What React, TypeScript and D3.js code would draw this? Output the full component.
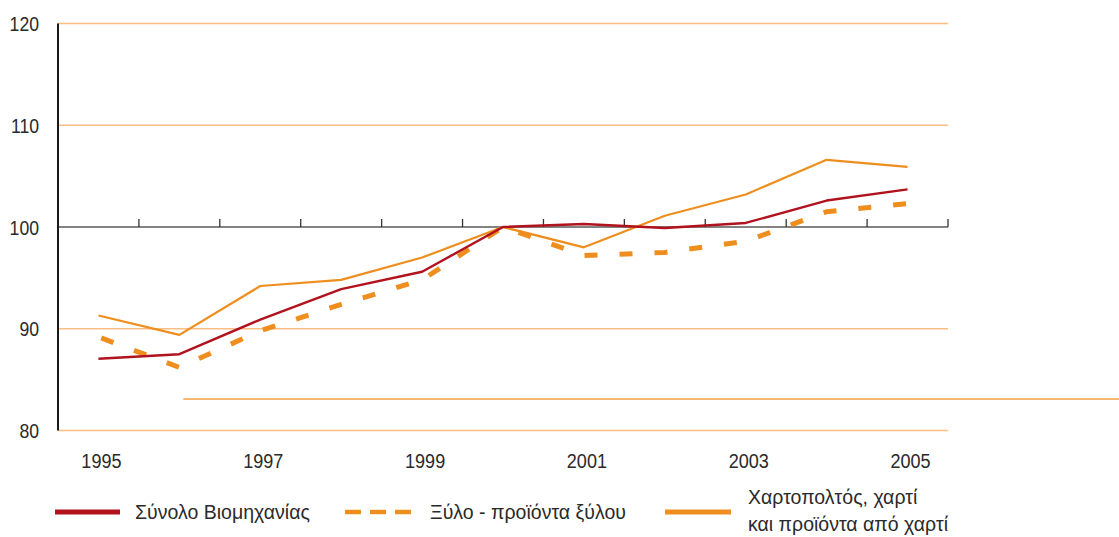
import React from "react";
import * as d3 from "d3";

const years = [1995, 1996, 1997, 1998, 1999, 2000, 2001, 2002, 2003, 2004, 2005];
const tickLabelYears = [1995, 1997, 1999, 2001, 2003, 2005];
const yTicks = [80, 90, 100, 110, 120];

const totalIndustry = [87.05, 87.5, 90.9, 93.9, 95.6, 100, 100.3, 99.9, 100.4, 102.6, 103.7];
const woodProducts = [89.2, 86.2, 89.8, 92.4, 94.8, 100, 97.2, 97.5, 98.6, 101.5, 102.3];
const paperProducts = [91.3, 89.4, 94.2, 94.8, 97.0, 100, 98.0, 101.1, 103.2, 106.6, 105.9];

const strayLineValue = 83.1;

const legendLabels = ["Σύνολο Βιομηχανίας", "Ξύλο - προϊόντα ξύλου"];
const legendLabel3 = ["Χαρτοπολτός, χαρτί", "και προϊόντα από χαρτί"];

const W = 1119;
const H = 537;
const FONT = "'Liberation Sans', Arial, sans-serif";
const RED = "#b0121e";
const ORANGE = "#ee8e1e";
const GRID = "#fbbd82";
const TEXT = "#2a2a2a";

function NText({
  x,
  y,
  anchor = "start",
  size = 21,
  sx = 0.88,
  children,
}: {
  x: number;
  y: number;
  anchor?: "start" | "middle" | "end";
  size?: number;
  sx?: number;
  children: React.ReactNode;
}) {
  return (
    <text
      transform={`translate(${x},${y}) scale(${sx},1)`}
      textAnchor={anchor}
      dominantBaseline="central"
      fontSize={size}
      fill={TEXT}
    >
      {children}
    </text>
  );
}

export default function App() {
  const x = d3.scaleBand<number>().domain(years).range([58, 948]).paddingInner(0).paddingOuter(0);
  const y = d3.scaleLinear().domain([80, 120]).range([430.5, 23.5]);
  const cx = (yr: number) => (x(yr) as number) + x.bandwidth() / 2;

  const line = d3
    .line<number>()
    .x((_, i) => cx(years[i]))
    .y((d) => y(d));

  const tickXs = years.map((yr) => (x(yr) as number) + x.bandwidth());

  return (
    <svg
      width={W}
      height={H}
      style={{ position: "absolute", left: 0, top: 0, display: "block", background: "#fff" }}
      fontFamily={FONT}
    >
      {/* gridlines */}
      {yTicks
        .filter((t) => t !== 100)
        .map((t) => (
          <line key={t} x1={58} x2={948} y1={y(t)} y2={y(t)} stroke={GRID} strokeWidth={1.3} />
        ))}

      {/* stray orange line */}
      <line
        x1={cx(1996) + 4}
        x2={W}
        y1={y(strayLineValue)}
        y2={y(strayLineValue)}
        stroke="#f0a040"
        strokeWidth={1.5}
      />

      {/* 100 baseline with ticks */}
      <line x1={58} x2={948} y1={y(100)} y2={y(100)} stroke="#5a5a5a" strokeWidth={1.3} />
      {tickXs.map((tx, i) => (
        <line key={i} x1={tx} x2={tx} y1={y(100)} y2={y(100) - 8} stroke="#333" strokeWidth={1.3} />
      ))}

      {/* y axis */}
      <line x1={58} x2={58} y1={y(120)} y2={y(80)} stroke="#1a1a1a" strokeWidth={2} />
      {yTicks.map((t) => (
        <NText key={t} x={39} y={y(t)} anchor="end" sx={0.84}>
          {t}
        </NText>
      ))}

      {/* x labels */}
      {tickLabelYears.map((yr) => (
        <NText key={yr} x={cx(yr) + 3} y={460} anchor="middle" sx={0.86}>
          {yr}
        </NText>
      ))}

      {/* series */}
      <path d={line(paperProducts) || ""} fill="none" stroke={ORANGE} strokeWidth={2.2} strokeLinejoin="round" />
      <path
        d={line(woodProducts) || ""}
        fill="none"
        stroke={ORANGE}
        strokeWidth={5}
        strokeDasharray="13 22"
        strokeDashoffset={-3}
      />
      <path d={line(totalIndustry) || ""} fill="none" stroke={RED} strokeWidth={2.4} strokeLinejoin="round" />

      {/* legend */}
      <line x1={55} x2={120} y1={512} y2={512} stroke={RED} strokeWidth={5} />
      <NText x={135} y={512} sx={0.93}>{legendLabels[0]}</NText>
      <line x1={345} x2={411} y1={512} y2={512} stroke={ORANGE} strokeWidth={4.5} strokeDasharray="16 9" />
      <NText x={430} y={512} sx={0.93}>{legendLabels[1]}</NText>
      <line x1={665} x2={731} y1={512} y2={512} stroke={ORANGE} strokeWidth={5} />
      <NText x={748} y={497} sx={0.93}>{legendLabel3[0]}</NText>
      <NText x={748} y={524} sx={0.93}>{legendLabel3[1]}</NText>
    </svg>
  );
}
